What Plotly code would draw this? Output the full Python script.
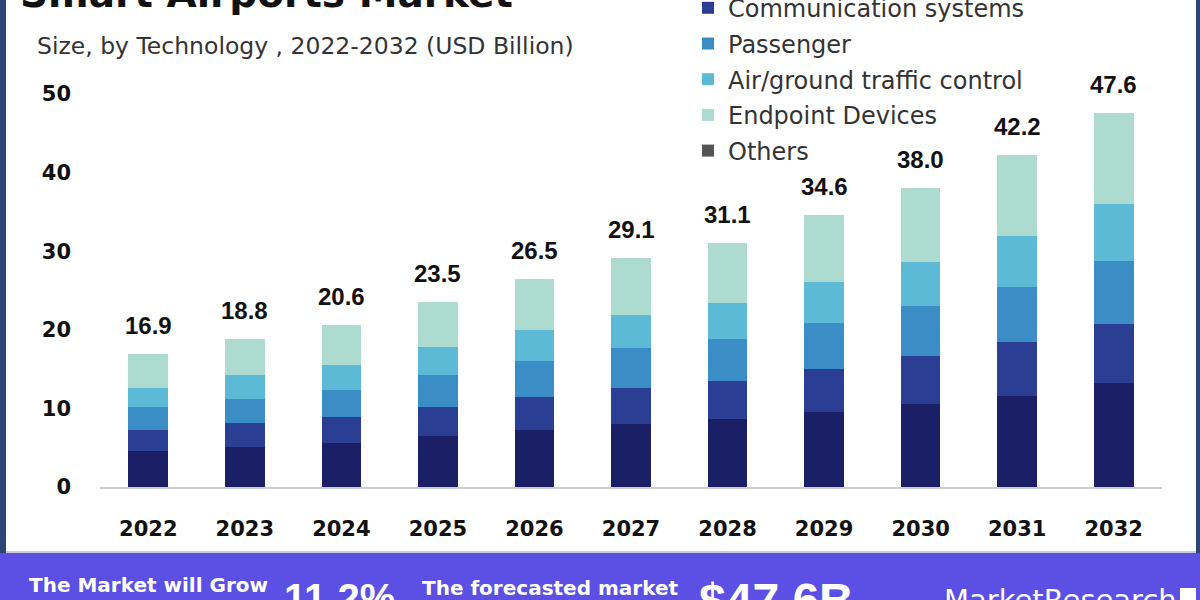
import plotly.graph_objects as go

years = ["2022", "2023", "2024", "2025", "2026", "2027", "2028", "2029", "2030", "2031", "2032"]
totals = [16.9, 18.8, 20.6, 23.5, 26.5, 29.1, 31.1, 34.6, 38.0, 42.2, 47.6]

security = [4.6, 5.1, 5.6, 6.5, 7.25, 8.0, 8.65, 9.5, 10.6, 11.6, 13.2]
communication = [2.65, 3.0, 3.25, 3.7, 4.2, 4.6, 4.85, 5.5, 6.1, 6.8, 7.6]
passenger = [2.9, 3.1, 3.45, 4.05, 4.55, 5.1, 5.3, 5.9, 6.3, 7.1, 8.0]
air_ground = [2.5, 3.0, 3.2, 3.5, 4.0, 4.2, 4.6, 5.2, 5.6, 6.4, 7.2]
endpoint = [4.25, 4.6, 5.1, 5.75, 6.5, 7.2, 7.7, 8.5, 9.4, 10.3, 11.6]
others = [0, 0, 0, 0, 0, 0, 0, 0, 0, 0, 0]

series = [
    ("Security systems", security, "#1A1F66"),
    ("Communication systems", communication, "#2A3F93"),
    ("Passenger", passenger, "#3B8EC5"),
    ("Air/ground traffic control", air_ground, "#5DBAD6"),
    ("Endpoint Devices", endpoint, "#AEDBD0"),
    ("Others", others, "#555555"),
]

W, H = 1200, 600
L, R, T, B = 100, 38, 94, 113
PW, PH = W - L - R, H - T - B


def px_x(px):
    return (px - L) / PW


def px_y(py):
    return (H - B - py) / PH


fig = go.Figure()
for i, (name, vals, col) in enumerate(series):
    fig.add_trace(go.Bar(
        x=years, y=vals, name=name, legendgroup=name,
        marker=dict(color=col, line=dict(width=0)),
        hoverinfo="name+y",
    ))

# value labels above the stacks (x given as category index)
for idx, tot in enumerate(totals):
    fig.add_annotation(
        x=idx, y=tot, xref="x", yref="y", text=f"{tot:.1f}", showarrow=False,
        yanchor="bottom", yshift=13,
        font=dict(family="Liberation Sans", size=24, color="#111111", weight="bold"),
    )

# title (partly cut off at top) and subtitle
fig.add_annotation(
    x=px_x(18), y=px_y(18), xref="paper", yref="paper", xanchor="left", yanchor="bottom",
    text="<b>Smart Airports Market</b>", showarrow=False,
    font=dict(family="DejaVu Sans", size=39, color="#111111"),
)
fig.add_annotation(
    x=px_x(35), y=px_y(46), xref="paper", yref="paper", xanchor="left", yanchor="middle",
    text="Size, by Technology , 2022-2032 (USD Billion)", showarrow=False,
    font=dict(family="DejaVu Sans", size=23.5, color="#333333"),
)

# bottom banner
shapes = [
    dict(type="rect", xref="paper", yref="paper", x0=px_x(0), x1=px_x(W), y0=px_y(553), y1=px_y(610),
         fillcolor="#5B4FE4", line=dict(width=0), layer="below"),
    dict(type="line", xref="paper", yref="paper", x0=px_x(0), x1=px_x(W), y0=px_y(552), y1=px_y(552),
         line=dict(color="#C9CCD6", width=2), layer="below"),
    dict(type="rect", xref="paper", yref="paper", x0=px_x(0), x1=px_x(6), y0=px_y(-5), y1=px_y(553),
         fillcolor="#2E4474", line=dict(width=0), layer="below"),
    dict(type="rect", xref="paper", yref="paper", x0=px_x(1196), x1=px_x(1205), y0=px_y(-5), y1=px_y(553),
         fillcolor="#2E4474", line=dict(width=0), layer="below"),
    dict(type="rect", xref="paper", yref="paper", x0=px_x(1180), x1=px_x(1196), y0=px_y(588), y1=px_y(605),
         fillcolor="#FFFFFF", line=dict(width=0), layer="above"),
]
banner = [
    ("The Market will Grow", 27, 585, 20, "DejaVu Sans", True),
    ("11.2%", 282, 598, 40, "Liberation Sans", True),
    ("The forecasted market", 420, 588, 20, "DejaVu Sans", True),
    ("$47.6B", 697, 600, 48, "Liberation Sans", True),
    ("MarketResearch", 942, 600, 29, "DejaVu Sans", False),
]
for txt, x0, yc, sz, fam, bold in banner:
    fig.add_annotation(
        x=px_x(x0), y=px_y(yc), xref="paper", yref="paper", xanchor="left", yanchor="middle",
        text=f"<b>{txt}</b>" if bold else txt, showarrow=False,
        font=dict(family=fam, size=sz, color="#FFFFFF"),
    )

fig.update_layout(
    width=W, height=H,
    margin=dict(l=L, r=R, t=T, b=B, autoexpand=False),
    paper_bgcolor="#FFFFFF", plot_bgcolor="#FFFFFF",
    barmode="stack", bargap=0.59,
    shapes=shapes,
    showlegend=True,
    legend=dict(
        x=px_x(688), y=px_y(-50), xref="paper", yref="paper", xanchor="left", yanchor="top",
        traceorder="grouped", tracegroupgap=1.5,
        font=dict(family="DejaVu Sans", size=24, color="#333333"),
        bgcolor="rgba(0,0,0,0)",
    ),
    xaxis=dict(
        type="category", range=[-0.5, len(years) - 0.5], autorange=False,
        showgrid=False, showline=True, linecolor="#CCCCCC", linewidth=1.5, ticks="",
        tickfont=dict(family="DejaVu Sans", size=21, color="#111111", weight="bold"),
        ticklabelstandoff=22,
    ),
    yaxis=dict(
        range=[0, 50], dtick=10, showgrid=False, zeroline=False, showline=False, ticks="",
        tickfont=dict(family="DejaVu Sans", size=21, color="#111111", weight="bold"),
        ticklabelstandoff=28,
    ),
)

fig.write_html("out.html")
